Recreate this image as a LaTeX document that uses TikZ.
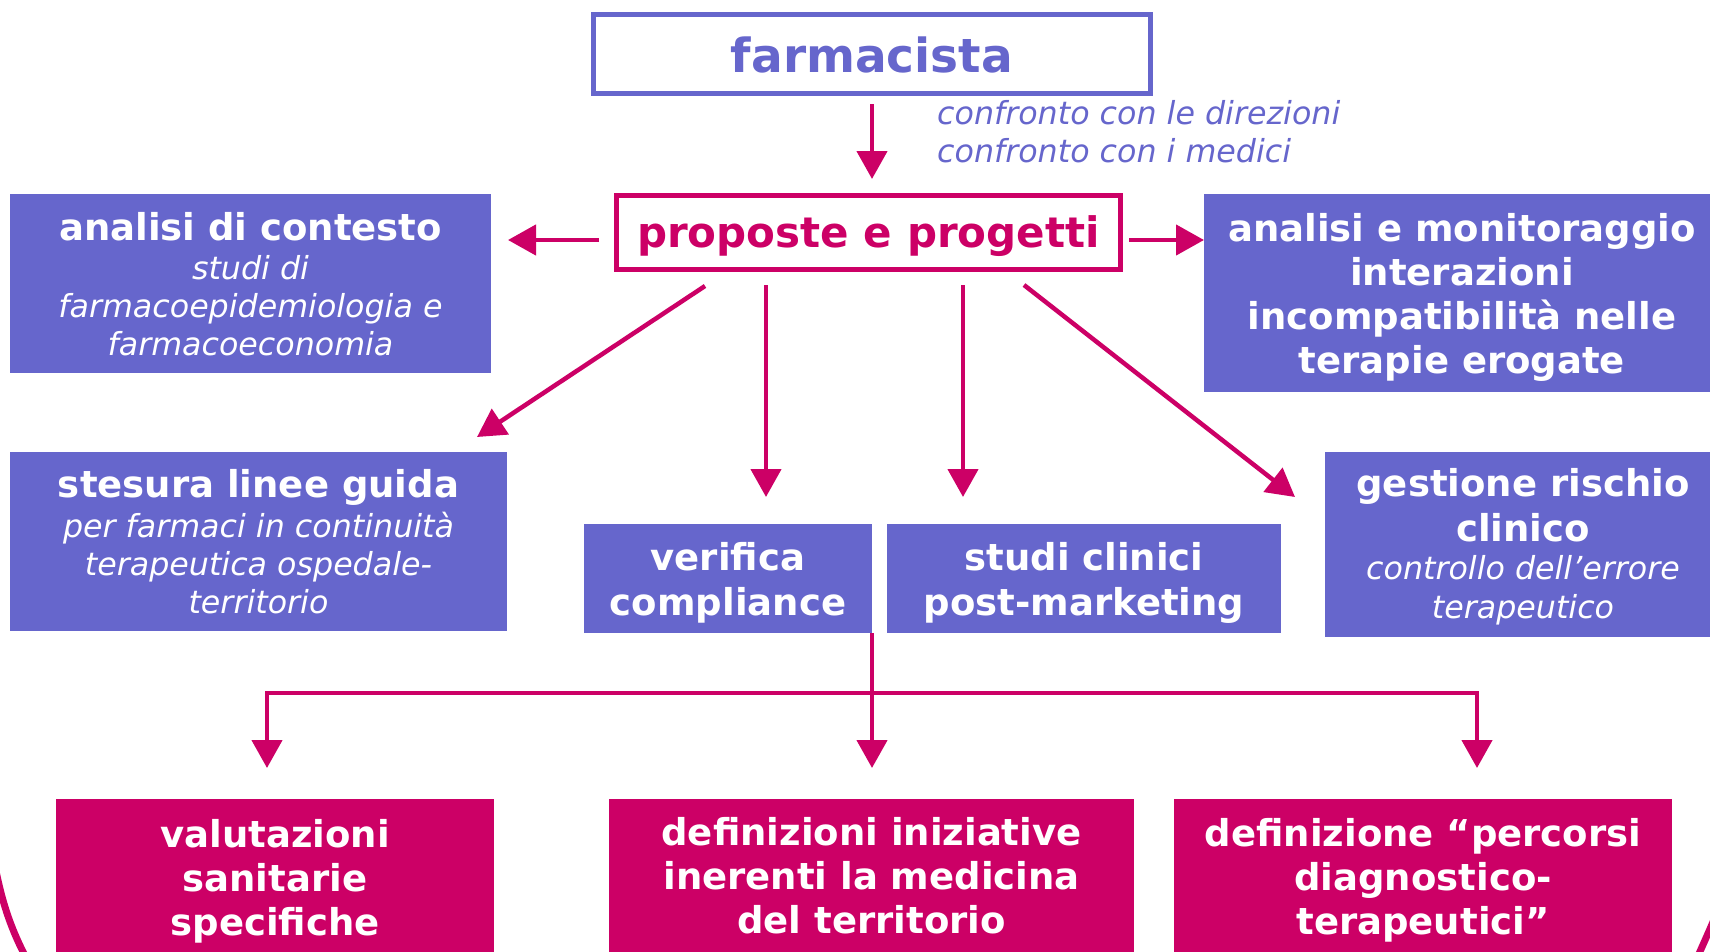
\documentclass[tikz,border=0pt]{standalone}
\usepackage{fontspec}
\setmainfont{DejaVu Sans}[BoldFont={DejaVu Sans Bold},ItalicFont={DejaVu Sans Oblique}]
\usetikzlibrary{arrows.meta}
\definecolor{lav}{HTML}{6666CC}
\definecolor{mag}{HTML}{CC0066}
\newcommand\bfn{\upshape\bfseries\fontsize{37}{44}\selectfont}
\newcommand\itn{\mdseries\itshape\fontsize{31.7}{38}\selectfont}
\newcommand\sth[1]{\rule{0pt}{#1}}
\begin{document}
\begin{tikzpicture}[x=1pt,y=-1pt,
  bluebox/.style={fill=lav,text=white,inner sep=0pt,outer sep=0pt,anchor=north west,align=center},
  magbox/.style={fill=mag,text=white,inner sep=0pt,outer sep=0pt,anchor=north west,align=center,font=\bfn},
  arr/.style={draw=mag,line width=4.5pt,-{Triangle[length=28pt,width=30pt]}},
  arc/.style={draw=mag,line width=7pt}
]
\useasboundingbox (0,0) rectangle (1710,951);
\clip (0,0) rectangle (1710,951);
\fill[white] (0,0) rectangle (1710,951);

% top nodes
\node[draw=lav,line width=5pt,minimum width=557pt,minimum height=79pt,inner sep=0pt,
      text=lav,font=\bfseries\fontsize{47}{56}\selectfont] (farm) at (872,54) {\sth{38pt}farmacista};
\node[draw=mag,line width=5pt,minimum width=504pt,minimum height=74pt,inner sep=0pt,
      text=mag,font=\bfseries\fontsize{42}{50}\selectfont] (prop) at (868.5,232.5) {\sth{40pt}proposte e progetti};
\node[anchor=north west,inner sep=0pt,text=lav,font=\itn,align=left] (conf) at (937,100)
      {confronto con le direzioni\\confronto con i medici};

% blue boxes
\node[bluebox,minimum width=481pt,minimum height=179pt,font=\itn] (ctx) at (10,194)
  {{\bfn\sth{30pt}analisi di contesto}\\[1pt]studi di\\farmacoepidemiologia e\\farmacoeconomia};
\node[bluebox,minimum width=497pt,minimum height=179pt,font=\itn] (guida) at (10,452)
  {{\bfn stesura linee guida}\\[2pt]per farmaci in continuità\\terapeutica ospedale-\\territorio};
\node[bluebox,minimum width=516pt,minimum height=198pt,font=\bfn] (mon) at (1204,194)
  {\sth{37pt}analisi e monitoraggio\\interazioni\\incompatibilità nelle\\terapie erogate};
\node[bluebox,minimum width=396pt,minimum height=185pt,font=\itn] (risk) at (1325,452)
  {{\bfn\sth{33.5pt}gestione rischio}\\[7pt]{\bfn clinico}\\controllo dell’errore\\[1pt]terapeutico};
\node[bluebox,minimum width=288pt,minimum height=109pt,font=\bfn] (ver) at (584,524)
  {\sth{37pt}verifica\\[1pt]compliance};
\node[bluebox,minimum width=394pt,minimum height=109pt,font=\bfn] (pm) at (887,524)
  {\sth{37pt}studi clinici\\[1pt]post-marketing};

% magenta boxes
\node[magbox,minimum width=438pt,minimum height=164.6pt] (valut) at (56,799)
  {valutazioni\\sanitarie\\specifiche};
\node[magbox,minimum width=525pt,minimum height=154pt] (din) at (609,799)
  {definizioni iniziative\\inerenti la medicina\\del territorio};
\node[magbox,minimum width=498pt,minimum height=162pt] (dpt) at (1174,799)
  {definizione “percorsi\\diagnostico-\\terapeutici”};

% connectors
\draw[arr,shorten <=8pt,shorten >=14pt] (farm.south) -- (farm.south |- prop.north);
\coordinate (pl) at ([yshift=-7.5pt]prop.west);
\coordinate (pr) at ([yshift=-7.5pt]prop.east);
\draw[arr,shorten <=15pt,shorten >=17pt] (pl) -- (pl -| ctx.east);
\draw[arr,shorten <=6pt] (pr) -- (pr -| mon.west);
\coordinate (pv1) at ([xshift=-102.5pt]prop.south);
\coordinate (pv2) at ([xshift=94.5pt]prop.south);
\draw[arr,shorten <=13pt,shorten >=27pt] (pv1) -- (pv1 |- ver.north);
\draw[arr,shorten <=13pt,shorten >=27pt] (pv2) -- (pv2 |- pm.north);
\draw[arr] ([xshift=-163.5pt,yshift=-14pt]prop.south) -- ([xshift=-30pt,yshift=15pt]guida.north east);
\draw[arr] ([xshift=155.5pt,yshift=-13pt]prop.south) -- ([xshift=-30pt,yshift=-45pt]risk.north west);

\coordinate (jn) at ([yshift=-60pt]ver.south east);
\draw[arr,shorten >=31pt] (ver.south east) -- (ver.south east |- din.north);
\draw[arr,shorten >=31pt] (jn) -| ([xshift=-8pt]valut.north);
\draw[arr,shorten >=31pt] (jn) -| ([xshift=54pt]dpt.north);

% decorative corner arcs
\draw[arc] (-8,850) .. controls (0,895) and (8,925) .. (30,965);
\draw[arc] (1720,905) .. controls (1712,925) and (1705,940) .. (1694,965);
\end{tikzpicture}
\end{document}
